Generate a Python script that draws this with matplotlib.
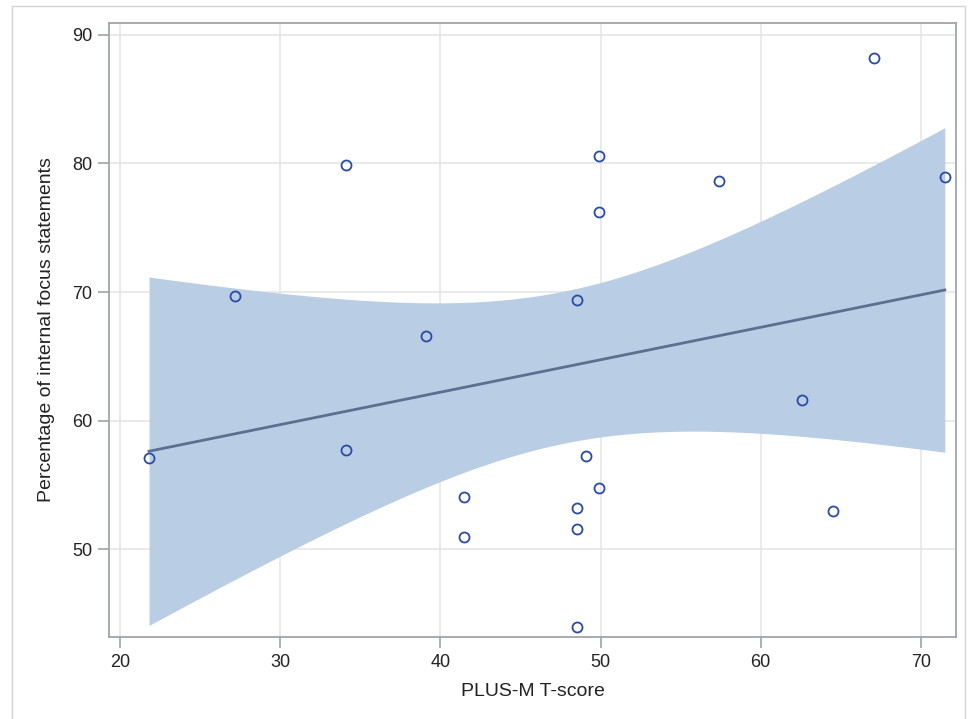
import numpy as np
import matplotlib.pyplot as plt
from matplotlib.patches import Rectangle

# valores
plus_m = [21.8, 27.2, 34.1, 34.1, 39.1, 41.5, 41.5, 48.5, 48.5, 48.5, 48.5,
          49.1, 49.9, 49.9, 49.9, 57.4, 62.6, 64.5, 67.1, 71.5]
internal = [57.1, 69.7, 79.9, 57.7, 66.6, 54.1, 51.0, 69.4, 53.2, 51.6, 44.0,
            57.3, 80.6, 76.2, 54.8, 78.6, 61.6, 53.0, 88.2, 78.9]
x_ticks = [20, 30, 40, 50, 60, 70]
y_ticks = [50, 60, 70, 80, 90]

x = np.array(plus_m)
y = np.array(internal)

# regressao linear + intervalo de confianca 95% da media
n = len(x)
b1, b0 = np.polyfit(x, y, 1)
resid = y - (b0 + b1 * x)
s = np.sqrt(np.sum(resid ** 2) / (n - 2))
t_crit = 2.101 if n == 20 else 2.093
xs = np.linspace(x.min(), x.max(), 200)
fit = b0 + b1 * xs
se = s * np.sqrt(1.0 / n + (xs - x.mean()) ** 2 / np.sum((x - x.mean()) ** 2))

plt.rcParams['font.family'] = ['Liberation Sans', 'DejaVu Sans']

fig = plt.figure(figsize=(9.71, 7.19), dpi=100)
ax = fig.add_axes([109 / 971, 82 / 719, 847 / 971, 614 / 719])

fig.patches.append(Rectangle((12 / 971, -0.05), 953 / 971, 1.05 - 6 / 719,
                             transform=fig.transFigure, fill=False,
                             edgecolor='#d4d4d4', linewidth=1.0))

ax.fill_between(xs, fit - t_crit * se, fit + t_crit * se,
                color='#b9cde5', linewidth=0, zorder=2)
ax.plot(xs, fit, color='#5d6f90', linewidth=2.0, zorder=3)
ax.plot(x, y, 'o', markerfacecolor='none', markeredgecolor='#2a4ba5',
        markersize=7.2, markeredgewidth=1.3, zorder=4)

ax.set_xlim(19.3, 72.2)
ax.set_ylim(43.2, 90.9)
ax.set_xticks(x_ticks)
ax.set_yticks(y_ticks)
ax.grid(True, color='#e6e6e6', linewidth=1.2, zorder=0)
ax.set_axisbelow(True)

for sp in ax.spines.values():
    sp.set_color('#a0a4a8')
    sp.set_linewidth(1.3)
ax.tick_params(colors='#a0a4a8', length=8, width=1.2, labelsize=13,
               labelcolor='#222222', pad=4)

ax.set_xlabel('PLUS-M T-score', fontsize=14, color='#222222', labelpad=9)
ax.set_ylabel('Percentage of internal focus statements', fontsize=14,
              color='#222222', labelpad=12)

plt.savefig('out.png', dpi=100)
plt.close()
